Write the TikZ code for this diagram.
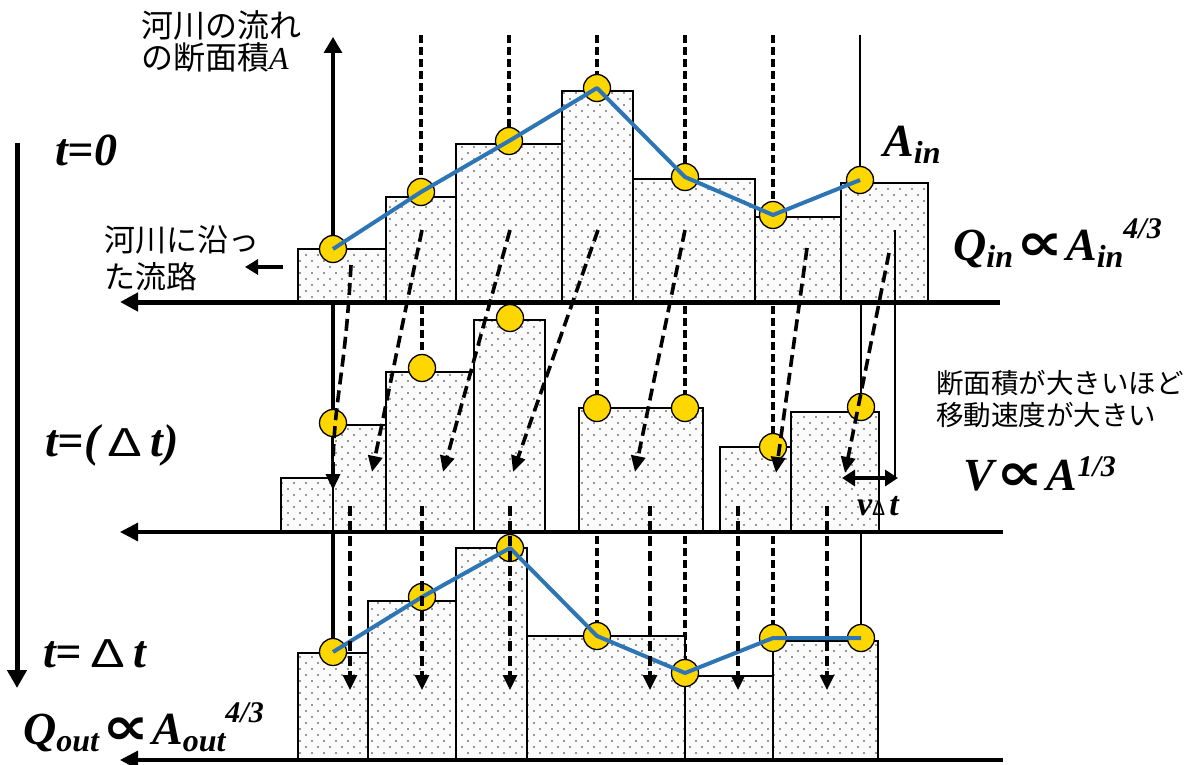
\documentclass[tikz,border=0pt]{standalone}
\usepackage{graphicx}
\usepackage{fontspec}
\setmainfont{Liberation Serif}
\newfontfamily\jp{Noto Sans CJK JP}
\newfontfamily\djv{DejaVu Sans}
\usetikzlibrary{arrows.meta,patterns}
\pgfdeclarepatternformonly{sdots}{\pgfqpoint{-1pt}{-1pt}}{\pgfqpoint{13pt}{13pt}}{\pgfqpoint{12pt}{12pt}}{%
  \pgfpathcircle{\pgfqpoint{0pt}{0pt}}{0.8pt}%
  \pgfpathcircle{\pgfqpoint{6pt}{6pt}}{0.8pt}%
  \pgfusepath{fill}}
\definecolor{ballc}{HTML}{FFD700}
\definecolor{linec}{HTML}{2E75B6}
\definecolor{dotc}{HTML}{333333}
\newcommand\lbig[1]{{\fontsize{46}{50}\selectfont\bfseries\itshape #1}}
\newcommand\lsub[1]{\raisebox{-7pt}{\fontsize{32}{34}\selectfont\bfseries\itshape #1}}
\newcommand\lsup[2]{\raisebox{#1}{\fontsize{30}{32}\selectfont\bfseries\itshape #2}}
\newcommand\lprop{\hspace{3pt}\raisebox{0pt}{\scalebox{1.5}[1.2]{\djv\bfseries\fontsize{44}{48}\selectfont ∝}}\hspace{3pt}}
\newcommand\dlt{\hspace{8pt}{\jp\fontsize{38}{40}\selectfont\scalebox{1.4}[1]{Δ}}\hspace{8pt}}
\begin{document}
\begin{tikzpicture}[x=1pt,y=-1pt,
  bar/.style={draw=black, line width=1.6pt, preaction={fill=gray!3}, pattern=sdots, pattern color=dotc},
  ball/.style={circle, draw=black, line width=1.3pt, fill=ballc, minimum size=27pt, inner sep=0pt},
  blueline/.style={draw=linec, line width=4pt, line join=round},
  vdash/.style={draw=black, line width=3.2pt, dash pattern=on 8pt off 4pt},
  vsolid/.style={draw=black, line width=2pt},
  fdash/.style={draw=black, line width=3.6pt, dash pattern=on 12pt off 6pt, -{Triangle[length=16pt,width=14pt]}},
  ddash/.style={draw=black, line width=3.2pt, dash pattern=on 10pt off 5pt, -{Triangle[length=15pt,width=14pt]}},
  axisthick/.style={draw=black, line width=5pt, -{Triangle[length=18pt,width=18pt]}},
  axisthin/.style={draw=black, line width=3.2pt, -{Triangle[length=18pt,width=18pt]}},
  txt/.style={inner sep=0pt, anchor=base west},
  jtxt/.style={inner sep=0pt, anchor=west, font=\jp\fontsize{31}{34}\selectfont},
]
\useasboundingbox (0,0) rectangle (1189,765);

% ---- key coordinates
\coordinate (yb) at (333,302);
\coordinate (yt) at (333,37);
\coordinate (ax1r) at (1000,302); \coordinate (ax1l) at (120,302);
\coordinate (ax2r) at (1003,532); \coordinate (ax2l) at (120,532);
\coordinate (ax3r) at (1003,760); \coordinate (ax3l) at (120,760);
\coordinate (tt) at (17,143); \coordinate (tb) at (17,688);

% ---- vertical axis and thick vertical at x=333
\draw[draw=black, line width=3.2pt, -{Triangle[length=16pt,width=18pt]}] (yb) -- (yt);
\coordinate (v333b) at (333,652);
\draw[draw=black, line width=3.4pt] (yb) -- (v333b);

% ---- circle positions
\foreach \n/\x/\y in {1/333/249,2/421/192,3/509/141,4/597/88,5/685/177,6/773/215,7/860/180}
  {\coordinate (pa\n) at (\x,\y);}
\foreach \n/\x/\y in {1/333/423,2/422/368,3/510/318,4/597/408,5/685/408,6/773/447,7/861/407}
  {\coordinate (pb\n) at (\x,\y);}
\foreach \n/\x/\y in {1/333/652,2/422/597,3/510/548,4/597/636,5/685/673,6/773/638,7/861/638}
  {\coordinate (pc\n) at (\x,\y);}

% ---- vertical lines (row 1)
\foreach \n/\x in {2/421,3/509,4/597,5/685,6/773}
  {\coordinate (top\n) at (\x,35); \draw[vdash] (top\n) -- (pa\n);}
\coordinate (top7) at (860,35);
\draw[vsolid] (top7) -- (pa7);
% row 2 vertical lines
\foreach \n/\x in {2/422,3/510,4/597,5/685,6/773}
  {\coordinate (mid\n) at (\x,306); \draw[vdash] (mid\n) -- (pb\n);}
\coordinate (mid7) at (861,304);
\draw[vsolid] (mid7) -- (pb7);
% row 3 vertical lines
\foreach \n/\x in {4/597,5/685,6/773}
  {\coordinate (low\n) at (\x,536); \draw[vdash] (low\n) -- (pc\n);}
\coordinate (low7) at (861,534);
\draw[vsolid] (low7) -- (pc7);

% ---- bars
\foreach \a/\b/\t in {298/386/249,386/456/197,456/562/144,562/633/91,633/755/179,755/841/217,841/928/183}
  {\path[bar] (\a,\t) rectangle (\b,302);}
\foreach \a/\b/\t in {281/333/478,333/386/425,386/474/372,474/545/320,579/703/408,720/791/447,791/879/412}
  {\path[bar] (\a,\t) rectangle (\b,532);}
\foreach \a/\b/\t in {298/368/653,368/456/601,456/527/548,527/685/636,685/773/676,773/878/641}
  {\path[bar] (\a,\t) rectangle (\b,760);}

% ---- horizontal axes
\draw[axisthick] (ax1r) -- (ax1l);
\draw[axisthin] (ax2r) -- (ax2l);
\draw[axisthin] (ax3r) -- (ax3l);

% ---- time arrow
\draw[draw=black, line width=5pt, -{Triangle[length=18pt,width=19pt]}] (tt) -- (tb);

% ---- small arrow near 河川に沿った流路
\coordinate (sar) at (283,267); \coordinate (sal) at (245,267);
\draw[draw=black, line width=4.5pt, -{Triangle[length=13pt,width=15pt]}] (sar) -- (sal);

% ---- v dt bracket and double arrow
\coordinate (brt) at (895,230); \coordinate (brb) at (895,478);
\draw[vsolid] (brt) -- (brb);
\coordinate (dal) at (842,478); \coordinate (dar) at (898,478);
\draw[draw=black, line width=4.5pt, {Triangle[length=13pt,width=16pt]}-{Triangle[length=13pt,width=16pt]}] (dal) -- (dar);

% ---- circles
\foreach \n in {1,...,7} {\node[ball] (a\n) at (pa\n) {};}
\foreach \n in {1,...,7} {\node[ball] (b\n) at (pb\n) {};}
\foreach \n in {1,...,7} {\node[ball] (c\n) at (pc\n) {};}

% ---- blue lines
\draw[blueline] (a1.center) -- (a2.center) -- (a3.center) -- (a4.center) -- (a5.center) -- (a6.center) -- (a7.center);
\draw[blueline] (c1.center) -- (c2.center) -- (c3.center) -- (c4.center) -- (c5.center) -- (c6.center) -- (c7.center);

% ---- diagonal dashed arrows (row 1 -> row 2)
\foreach \n/\sx/\sy/\ex/\ey in {2/422/230/372/472,3/510/230/443/472,4/598/230/513/472,5/685/230/635/472,6/807/248/776/473,7/889/253/845/473}
  {\coordinate (s\n) at (\sx,\sy); \coordinate (e\n) at (\ex,\ey); \draw[fdash] (s\n) -- (e\n);}
\coordinate (s1) at (351,265); \coordinate (e1) at (333,490);
\draw[fdash] (s1) .. controls (345,380) and (333,400) .. (e1);

% ---- vertical dashed arrows (row 2 -> row 3)
\foreach \n/\x in {1/350,2/422,3/510,4/650,5/738,6/827}
  {\coordinate (f\n) at (\x,506); \coordinate (g\n) at (\x,690); \draw[ddash] (f\n) -- (g\n);}

% ---- texts
\node[jtxt, font=\jp\fontsize{32}{34}\selectfont] (jt1) at (141,25) {河川の流れ};
\node[jtxt, font=\jp\fontsize{32}{34}\selectfont] (jt2) at (141,57) {の断面積{\rmfamily\itshape\fontsize{32}{34}\selectfont A}};
\node[jtxt] (jl1) at (104,240) {河川に沿っ};
\node[jtxt] (jl2) at (104,277) {た流路};
\node[jtxt, font=\jp\fontsize{27.5}{30}\selectfont] (jr1) at (936,383) {断面積が大きいほど};
\node[jtxt, font=\jp\fontsize{27.5}{30}\selectfont] (jr2) at (936,415) {移動速度が大きい};

\node[txt] (t0) at (55,166) {\lbig{t=0}};
\node[txt] (t1) at (45,456) {\lbig{t=(}\dlt\lbig{t)}};
\node[txt] (t2) at (43,667) {\lbig{t=}\dlt\lbig{t}};
\node[txt] (qout) at (23,744) {\lbig{Q}\lsub{out}\lprop\lbig{A}\lsub{out}\lsup{22pt}{4/3}};
\node[txt] (ain) at (883,157) {\lbig{A}\lsub{in}};
\node[txt] (qin) at (953,260) {\lbig{Q}\lsub{in}\lprop\lbig{A}\lsub{in}\lsup{22pt}{4/3}};
\node[txt] (vprop) at (963,490) {\lbig{V}\lprop\lbig{A}\lsup{14pt}{1/3}};
\node[txt] (vdt) at (857,515) {{\fontsize{34}{36}\selectfont\bfseries\itshape v}{\jp\fontsize{20}{22}\selectfont Δ}\hspace{4pt}{\fontsize{34}{36}\selectfont\bfseries\itshape t}};
\end{tikzpicture}
\end{document}
